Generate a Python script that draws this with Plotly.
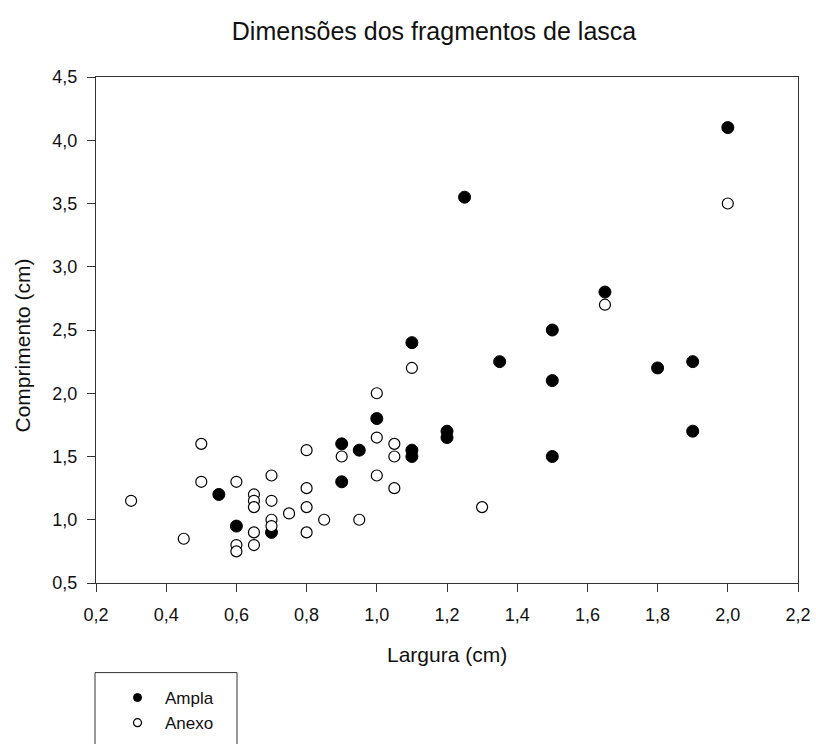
import plotly.graph_objects as go

# Fragment dimensions (cm): width vs length for the two sets
ampla_largura = [0.55, 0.60, 0.70, 0.90, 0.90, 0.95, 1.00, 1.10, 1.10, 1.10, 1.20,
                 1.20, 1.25, 1.35, 1.50, 1.50, 1.50, 1.65, 1.80, 1.90, 1.90, 2.00]
ampla_comprimento = [1.20, 0.95, 0.90, 1.60, 1.30, 1.55, 1.80, 2.40, 1.55, 1.50, 1.70,
                     1.65, 3.55, 2.25, 2.50, 2.10, 1.50, 2.80, 2.20, 2.25, 1.70, 4.10]

anexo_largura = [0.30, 0.45, 0.50, 0.50, 0.60, 0.60, 0.60, 0.65, 0.65, 0.65, 0.65, 0.65,
                 0.70, 0.70, 0.70, 0.70, 0.75, 0.80, 0.80, 0.80, 0.80, 0.85, 0.90, 0.95,
                 1.00, 1.00, 1.00, 1.05, 1.05, 1.05, 1.10, 1.30, 1.65, 2.00]
anexo_comprimento = [1.15, 0.85, 1.60, 1.30, 1.30, 0.80, 0.75, 1.20, 1.15, 1.10, 0.90, 0.80,
                     1.35, 1.15, 1.00, 0.95, 1.05, 1.55, 1.25, 1.10, 0.90, 1.00, 1.50, 1.00,
                     2.00, 1.65, 1.35, 1.60, 1.50, 1.25, 2.20, 1.10, 2.70, 3.50]

x_range = [0.2, 2.2]
y_range = [0.5, 4.5]

FONT = "Liberation Sans, Arial, sans-serif"
AXIS_COLOR = "#333333"
TEXT_COLOR = "#111111"

filled = dict(symbol="circle", color="black", line=dict(color="black", width=1))
hollow = dict(symbol="circle", color="white", line=dict(color="black", width=1.2))

fig = go.Figure()
fig.add_trace(go.Scatter(x=ampla_largura, y=ampla_comprimento, mode="markers",
                         name="Ampla", showlegend=False, marker=dict(size=12, **filled)))
fig.add_trace(go.Scatter(x=anexo_largura, y=anexo_comprimento, mode="markers",
                         name="Anexo", showlegend=False, marker=dict(size=11, **hollow)))

# Legend entries with smaller symbols
fig.add_trace(go.Scatter(x=[None], y=[None], mode="markers", name="Ampla",
                         marker=dict(size=8, **filled)))
fig.add_trace(go.Scatter(x=[None], y=[None], mode="markers", name="Anexo",
                         marker=dict(size=8, **hollow)))

axis_common = dict(
    showgrid=False, zeroline=False, showline=True, linecolor=AXIS_COLOR, linewidth=1,
    mirror=True, ticks="outside", ticklen=8, tickwidth=1, tickcolor=AXIS_COLOR,
    tickformat=".1f", tickfont=dict(family=FONT, size=18, color=TEXT_COLOR),
)

fig.update_xaxes(range=x_range, dtick=0.2, tick0=0.2, ticklabelstandoff=7, **axis_common)
fig.update_yaxes(range=y_range, dtick=0.5, tick0=0.5, ticklabelstandoff=6, **axis_common)

# Axis titles placed as annotations
fig.add_annotation(text="Largura (cm)", xref="paper", yref="paper", x=0.5, y=-0.1415,
                   showarrow=False, xanchor="center", yanchor="middle",
                   font=dict(family=FONT, size=21, color=TEXT_COLOR))
fig.add_annotation(text="Comprimento (cm)", xref="paper", yref="paper", x=-0.105, y=0.47,
                   showarrow=False, xanchor="center", yanchor="middle", textangle=-90,
                   font=dict(family=FONT, size=21, color=TEXT_COLOR))

# Legend frame
fig.add_shape(type="rect", xref="paper", yref="paper",
              x0=(95 - 96) / 702, x1=(237 - 96) / 702,
              y0=(583.3 - 760) / 506.6, y1=(583.3 - 673) / 506.6,
              line=dict(color=AXIS_COLOR, width=1), fillcolor="rgba(0,0,0,0)")

fig.update_layout(
    width=816, height=744,
    margin=dict(l=96, r=18, t=77, b=161, autoexpand=False),
    paper_bgcolor="white", plot_bgcolor="white",
    separators=",.",
    title=dict(text="Dimensões dos fragmentos de lasca", x=434 / 816, xanchor="center",
               xref="container", yref="container", y=1 - 31 / 744, yanchor="middle",
               font=dict(family=FONT, size=25, color=TEXT_COLOR)),
    showlegend=True,
    legend=dict(xref="container", yref="container", x=110 / 816, y=1 - 680 / 744,
                xanchor="left", yanchor="top", bgcolor="rgba(0,0,0,0)", borderwidth=0,
                itemwidth=45, tracegroupgap=0,
                font=dict(family=FONT, size=17, color=TEXT_COLOR)),
)

fig.write_html("out.html")
